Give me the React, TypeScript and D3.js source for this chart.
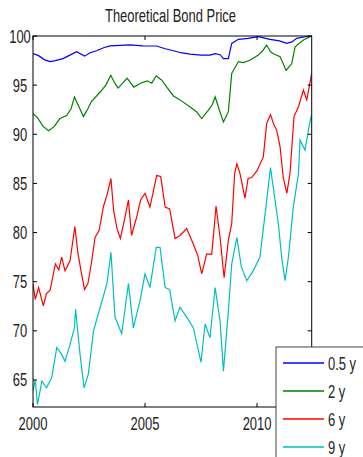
import * as d3 from "d3";

const seriesNames = ["0.5 y", "2 y", "6 y", "9 y"];
const seriesColors = ["#0000ff", "#008000", "#ff0000", "#00bfbf"];
const xTicks = [2000, 2005, 2010];
const yTicks = [65, 70, 75, 80, 85, 90, 95, 100];

// [year, price]
const bond05: [number, number][] = [
  [2000.0, 98.2], [2000.25, 98.0], [2000.5, 97.6], [2000.76, 97.4], [2001.0, 97.5],
  [2001.34, 97.7], [2001.6, 98.0], [2001.95, 98.4], [2002.3, 97.95], [2002.55, 98.3],
  [2002.84, 98.5], [2003.15, 98.8], [2003.44, 99.0], [2003.9, 99.05], [2004.33, 99.1],
  [2004.9, 99.0], [2005.52, 98.98], [2005.9, 98.7], [2006.27, 98.5], [2006.6, 98.3],
  [2007.0, 98.15], [2007.5, 98.05], [2007.9, 98.05], [2008.13, 98.2], [2008.35, 98.1],
  [2008.5, 97.7], [2008.72, 97.7], [2008.87, 99.25], [2009.17, 99.66], [2009.6, 99.75],
  [2010.06, 99.93], [2010.58, 99.66], [2011.0, 99.5], [2011.33, 99.25], [2011.55, 99.4],
  [2011.77, 99.76], [2012.1, 99.9], [2012.44, 100],
];
const bond2: [number, number][] = [
  [2000.0, 92.1], [2000.2, 91.7], [2000.45, 90.8], [2000.7, 90.35], [2000.95, 90.8],
  [2001.2, 91.6], [2001.5, 91.9], [2001.7, 92.6], [2001.85, 93.8], [2002.05, 92.8],
  [2002.25, 91.8], [2002.45, 92.6], [2002.6, 93.3], [2003.0, 94.3], [2003.25, 95.0],
  [2003.47, 96.0], [2003.65, 95.2], [2003.8, 94.7], [2004.0, 95.2], [2004.2, 95.7],
  [2004.5, 94.8], [2004.8, 95.2], [2005.1, 95.44], [2005.3, 95.2], [2005.5, 95.95],
  [2005.75, 95.5], [2005.97, 94.8], [2006.27, 93.9], [2006.56, 93.5], [2007.0, 92.8],
  [2007.3, 92.3], [2007.53, 91.6], [2007.83, 92.45], [2008.0, 93.0], [2008.13, 93.8],
  [2008.3, 92.6], [2008.5, 91.25], [2008.72, 92.3], [2008.87, 96.2], [2009.17, 97.4],
  [2009.4, 97.3], [2009.7, 97.55], [2010.06, 98.06], [2010.25, 98.5], [2010.43, 99.08],
  [2010.6, 98.4], [2010.73, 98.2], [2011.03, 97.9], [2011.3, 96.5], [2011.55, 97.2],
  [2011.7, 98.9], [2012.07, 99.6], [2012.44, 100],
];
const bond6: [number, number][] = [
  [2000.0, 74.8], [2000.1, 73.2], [2000.25, 74.4], [2000.46, 72.55], [2000.6, 73.8],
  [2000.76, 74.1], [2001.0, 76.8], [2001.15, 76.2], [2001.28, 77.5], [2001.43, 76.1],
  [2001.65, 77.1], [2001.87, 80.6], [2002.0, 78.0], [2002.15, 76.0], [2002.3, 74.2],
  [2002.45, 74.8], [2002.6, 76.8], [2002.77, 79.5], [2002.95, 80.2], [2003.14, 82.6],
  [2003.3, 83.8], [2003.48, 85.5], [2003.6, 82.2], [2003.75, 80.4], [2003.9, 79.4],
  [2004.1, 81.5], [2004.26, 83.3], [2004.4, 79.7], [2004.63, 81.6], [2004.8, 83.3],
  [2005.0, 84.0], [2005.22, 82.6], [2005.4, 84.5], [2005.52, 85.8], [2005.7, 85.7],
  [2005.9, 82.6], [2006.1, 82.4], [2006.34, 79.4], [2006.56, 79.7], [2006.86, 80.4],
  [2007.16, 78.8], [2007.35, 77.7], [2007.53, 75.8], [2007.75, 77.8], [2007.98, 77.8],
  [2008.17, 82.7], [2008.35, 79.5], [2008.53, 75.4], [2008.72, 79.2], [2008.87, 80.9],
  [2009.0, 86.0], [2009.1, 87.0], [2009.24, 86.0], [2009.46, 83.5], [2009.6, 85.5],
  [2009.76, 85.6], [2010.0, 86.3], [2010.28, 87.7], [2010.43, 91.1], [2010.6, 92.0],
  [2010.75, 91.0], [2010.88, 90.4], [2011.03, 88.7], [2011.17, 85.6], [2011.33, 84.0],
  [2011.47, 86.0], [2011.65, 91.8], [2011.85, 92.8], [2012.07, 94.5], [2012.22, 93.5],
  [2012.44, 96.2],
];
const bond9: [number, number][] = [
  [2000.0, 63.9], [2000.1, 65.0], [2000.2, 62.5], [2000.4, 64.9], [2000.6, 64.2],
  [2000.83, 65.2], [2001.06, 68.3], [2001.28, 67.6], [2001.43, 66.9], [2001.65, 68.6],
  [2001.85, 70.3], [2001.9, 72.2], [2002.1, 67.6], [2002.28, 64.2], [2002.47, 65.6],
  [2002.7, 70.0], [2003.0, 72.4], [2003.3, 74.8], [2003.48, 78.0], [2003.66, 71.4],
  [2003.96, 69.7], [2004.26, 74.8], [2004.48, 70.3], [2004.78, 73.1], [2005.0, 75.8],
  [2005.22, 74.4], [2005.5, 78.5], [2005.67, 78.5], [2005.9, 74.4], [2006.1, 74.2],
  [2006.34, 71.0], [2006.56, 72.4], [2006.86, 71.4], [2007.16, 70.3], [2007.5, 66.8],
  [2007.68, 70.7], [2007.9, 69.3], [2008.13, 74.4], [2008.35, 71.0], [2008.5, 65.9],
  [2008.72, 72.0], [2008.87, 76.8], [2009.1, 79.5], [2009.3, 76.5], [2009.54, 75.1],
  [2009.83, 76.1], [2010.13, 77.5], [2010.36, 81.9], [2010.6, 86.6], [2010.73, 84.5],
  [2010.95, 80.9], [2011.1, 77.5], [2011.25, 75.1], [2011.4, 77.5], [2011.62, 82.6],
  [2011.85, 86.0], [2011.92, 89.4], [2012.14, 88.4], [2012.37, 91.4], [2012.44, 92.0],
];
const allSeries = [bond05, bond2, bond6, bond9];

const font = "'Liberation Sans', Arial, sans-serif";

// condensed text, like the narrow Helvetica of the original
const NarrowText = ({ x, y, anchor = "start", size = 18, children }: any) => (
  <g transform={`translate(${x}, ${y}) scale(0.72, 1)`}>
    <text x={0} y={0} textAnchor={anchor} fontFamily={font} fontSize={size} fill="#222">
      {children}
    </text>
  </g>
);

export default function App() {
  const width = 363,
    height = 457,
    plot = { left: 33, right: 311.7, top: 36, bottom: 407 };

  const xScale = d3.scaleLinear().domain([2000, 2012.44]).range([plot.left, plot.right]);
  const yScale = d3.scaleLinear().domain([62.25, 100]).range([plot.bottom, plot.top]);

  const valueLine = d3
    .line<[number, number]>()
    .x((d) => xScale(d[0]))
    .y((d) => yScale(d[1]));

  const legend = { x: 276, y: 347, rowGap: 28 };

  return (
    <div style={{ position: "absolute", left: 0, top: 0 }}>
      <svg width={width} height={height} style={{ display: "block" }}>
        <rect width={width} height={height} fill="#fff" />
        <NarrowText x={170.5} y={21.5} anchor="middle">
          Theoretical Bond Price
        </NarrowText>
        <defs>
          <clipPath id="plotClip">
            <rect x={plot.left} y={plot.top} width={plot.right - plot.left} height={plot.bottom - plot.top} />
          </clipPath>
        </defs>
        <g clipPath="url(#plotClip)">
          {allSeries.map((s, i) => (
            <path key={i} d={valueLine(s) || ""} fill="none" stroke={seriesColors[i]} strokeWidth={1.2} />
          ))}
        </g>
        <rect
          x={plot.left}
          y={plot.top}
          width={plot.right - plot.left}
          height={plot.bottom - plot.top}
          fill="none"
          stroke="#000"
          strokeWidth={1}
        />
        {yTicks.map((t) => (
          <g key={t}>
            <line x1={plot.left} x2={plot.left + 4} y1={yScale(t)} y2={yScale(t)} stroke="#000" />
            <line x1={plot.right} x2={plot.right - 4} y1={yScale(t)} y2={yScale(t)} stroke="#000" />
            <NarrowText x={20} y={yScale(t) + 6.5} anchor="middle">
              {t}
            </NarrowText>
          </g>
        ))}
        {xTicks.map((t) => (
          <g key={t}>
            <line x1={xScale(t)} x2={xScale(t)} y1={plot.bottom} y2={plot.bottom - 4} stroke="#000" />
            <line x1={xScale(t)} x2={xScale(t)} y1={plot.top} y2={plot.top + 4} stroke="#000" />
            <NarrowText x={xScale(t)} y={430} anchor="middle">
              {t}
            </NarrowText>
          </g>
        ))}
        <g transform={`translate(${legend.x}, ${legend.y})`}>
          <rect x={0} y={0} width={120} height={140} fill="#fff" stroke="#444" strokeWidth={1} />
          {seriesNames.map((name, i) => (
            <g key={name} transform={`translate(0, ${16 + i * legend.rowGap})`}>
              <line x1={7} x2={48} y1={0} y2={0} stroke={seriesColors[i]} strokeWidth={1.5} />
              <NarrowText x={52} y={6.5}>
                {name}
              </NarrowText>
            </g>
          ))}
        </g>
      </svg>
    </div>
  );
}
